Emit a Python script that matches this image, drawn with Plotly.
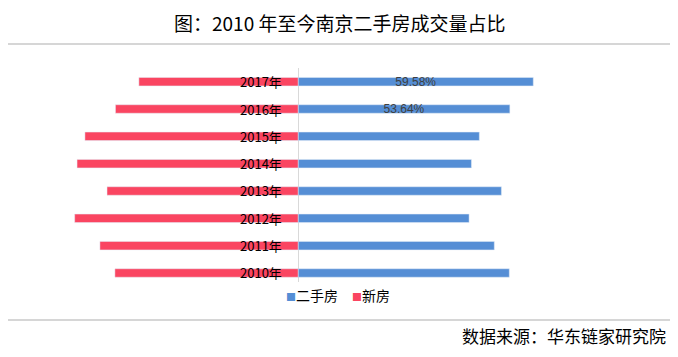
import plotly.graph_objects as go

years = ["2010年", "2011年", "2012年", "2013年", "2014年", "2015年", "2016年", "2017年"]
second_hand = [53.5, 49.7, 43.3, 51.5, 43.9, 45.9, 53.64, 59.58]   # 二手房 share (%)
new_home = [46.5, 50.3, 56.7, 48.5, 56.1, 54.1, 46.36, 40.42]      # 新房 share (%)
value_labels = ["", "", "", "", "", "", "53.64%", "59.58%"]

title_text = "图：2010 年至今南京二手房成交量占比"
source_text = "数据来源：华东链家研究院"

BLUE = "#558ED5"
RED = "#FA4561"
FONT = "Noto Sans CJK SC"

# the page body has an 8px margin; the figure is sized to fit the 678x357 window
OFF = 8
W, H = 678 - 2 * OFF, 357 - 2 * OFF
top_px, bottom_px = 68 - OFF, 282 - OFF
ph = bottom_px - top_px


def py(y_ref):
    return (bottom_px - (y_ref - OFF)) / ph


def px(x_ref):
    return (x_ref - OFF) / W


fig = go.Figure()

fig.add_trace(go.Bar(
    y=years, x=[-v for v in new_home], orientation="h", marker_color=RED,
    width=0.31, showlegend=False, name="新房", hoverinfo="skip",
))
fig.add_trace(go.Bar(
    y=years, x=second_hand, orientation="h", marker_color=BLUE,
    width=0.31, showlegend=False, name="二手房",
    text=value_labels, textposition="inside", insidetextanchor="middle",
    constraintext="none", cliponaxis=False,
    textangle=0, textfont=dict(size=12, color="#404040", family="Liberation Sans"),
    hoverinfo="skip",
))

# legend entries (colored square drawn in the entry text)
fig.add_trace(go.Scatter(
    x=[None], y=[None], mode="markers", legend="legend",
    name=f"<span style='color:{BLUE};font-size:10px'>■</span>二手房",
    marker=dict(symbol="square", size=1, color="rgba(0,0,0,0)")))
fig.add_trace(go.Scatter(
    x=[None], y=[None], mode="markers", legend="legend2",
    name=f"<span style='color:{RED};font-size:10px'>■</span>新房",
    marker=dict(symbol="square", size=1, color="rgba(0,0,0,0)")))

# year labels at the center axis
for yr in years:
    fig.add_annotation(x=0, y=yr, xref="x", yref="y", text=yr, showarrow=False,
                       xanchor="right", yanchor="middle", xshift=-14,
                       font=dict(size=13, color="#000000", family=FONT))

fig.add_annotation(x=0.5, y=py(OFF), xref="paper", yref="paper", text=title_text,
                   showarrow=False, xanchor="center", yanchor="top", borderpad=0,
                   font=dict(size=19, color="#000000", family=FONT))
fig.add_annotation(x=px(667), y=py(OFF + H), xref="paper", yref="paper", text=source_text,
                   showarrow=False, xanchor="right", yanchor="bottom", borderpad=0,
                   font=dict(size=17, color="#000000", family=FONT))

for yl in (44, 320):
    fig.add_shape(type="line", xref="paper", yref="paper",
                  x0=0, x1=px(670), y0=py(yl), y1=py(yl),
                  line=dict(color="#C8C8C8", width=1.5))

center_px = 298.3 - OFF
scale = 3.944
legend_font = dict(size=14, color="#000000", family=FONT)
fig.update_layout(
    width=W, height=H,
    margin=dict(l=0, r=0, t=top_px, b=H - bottom_px, pad=0),
    paper_bgcolor="white", plot_bgcolor="white",
    barmode="relative",
    xaxis=dict(range=[-center_px / scale, (W - center_px) / scale], showgrid=False,
               showticklabels=False, zeroline=True, zerolinecolor="#D9D9D9",
               zerolinewidth=1, fixedrange=True),
    yaxis=dict(range=[-0.33, 7.5], visible=False, type="category"),
    legend=dict(orientation="h", x=px(286 - 40), xanchor="left", y=py(296), yanchor="middle",
                font=legend_font, itemwidth=30, bgcolor="rgba(0,0,0,0)"),
    legend2=dict(orientation="h", x=px(352 - 40), xanchor="left", y=py(296), yanchor="middle",
                 font=legend_font, itemwidth=30, bgcolor="rgba(0,0,0,0)"),
    font=dict(family=FONT),
)

fig.write_html("out.html")
